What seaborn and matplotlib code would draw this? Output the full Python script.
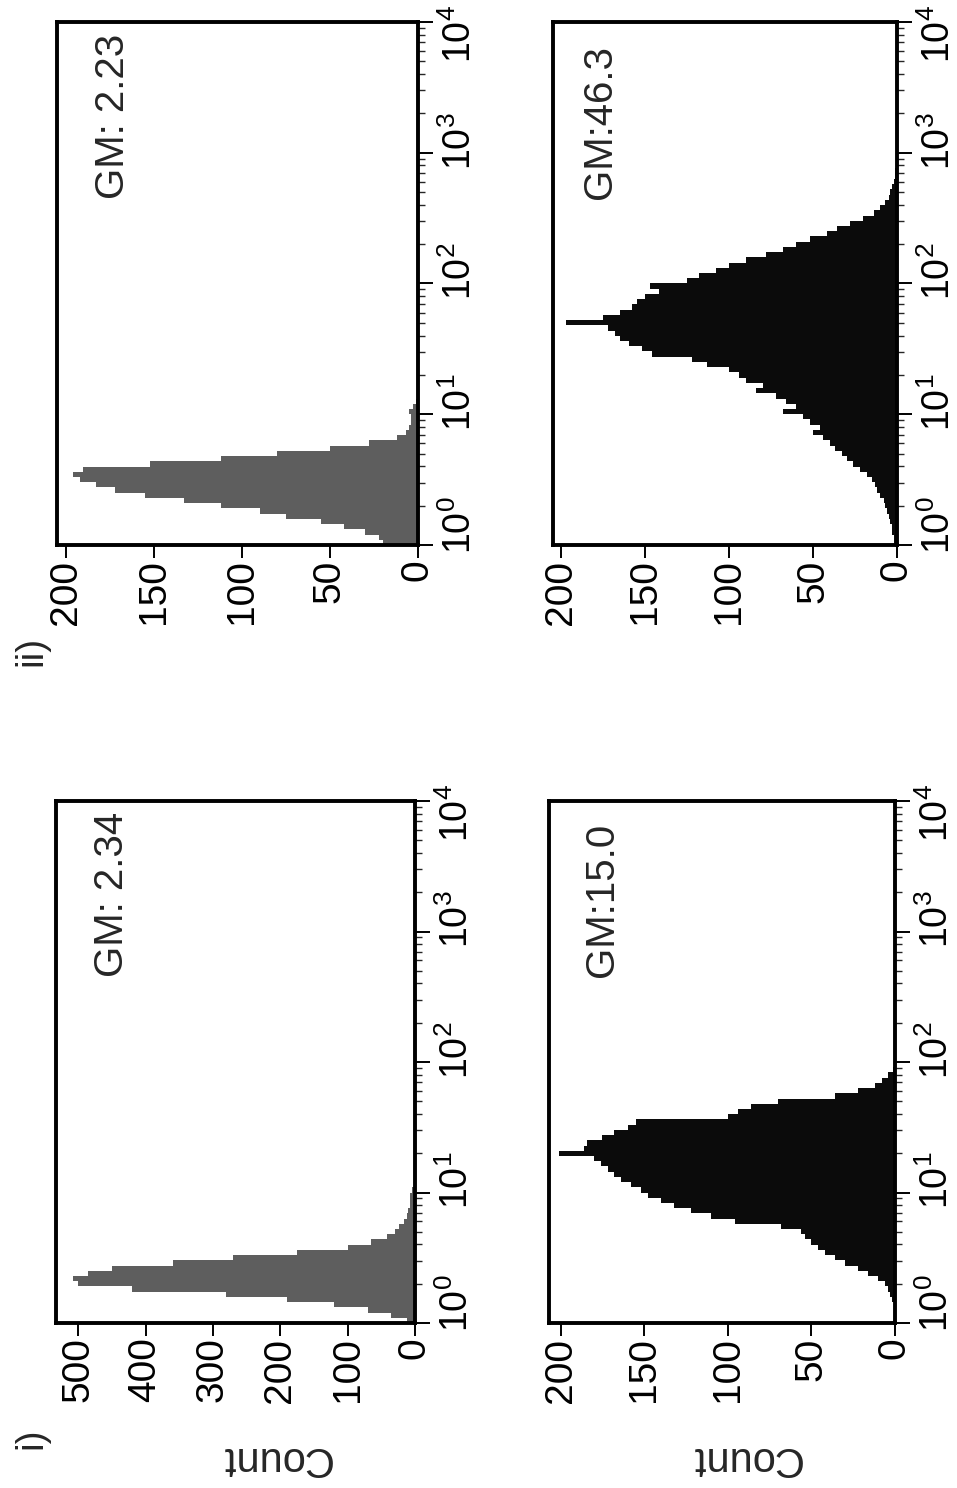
import numpy as np
import pandas as pd
import matplotlib
matplotlib.use("Agg")
import matplotlib.pyplot as plt
import seaborn as sns
from matplotlib.ticker import FixedLocator, LogLocator, NullFormatter
from matplotlib.transforms import ScaledTranslation

# width of one channel on the log fluorescence axis (decades); channel 0 starts at 10^0
BIN_W = 0.04

# counts per channel
ii_ctrl_counts = [20, 22, 30, 42, 55, 75, 90, 112, 133, 155, 172, 183, 192, 196,
                  190, 152, 112, 80, 50, 28, 12, 7, 5, 4, 4, 5, 3, 1]
ii_stain_counts = [2, 2, 3, 3, 4, 5, 6, 7, 8, 10, 12, 13, 15, 18, 22, 26, 30, 33,
                   37, 40, 44, 50, 46, 52, 56, 68, 60, 66, 72, 84, 80, 90, 94, 100,
                   113, 122, 146, 152, 160, 165, 168, 172, 197, 175, 165, 158, 155,
                   150, 142, 147, 125, 118, 108, 100, 90, 78, 68, 60, 52, 42, 36,
                   28, 20, 14, 10, 7, 5, 4, 3, 2, 1, 1]
i_ctrl_counts = [12, 35, 70, 120, 190, 280, 420, 500, 508, 485, 450, 360, 270, 175,
                 100, 65, 42, 30, 24, 17, 12, 10, 8, 7, 7, 5, 2]
i_stain_counts = [0, 0, 0, 0, 2, 3, 4, 6, 10, 16, 22, 30, 36, 42, 46, 50, 54, 56,
                  68, 96, 110, 122, 132, 140, 148, 152, 158, 164, 168, 172, 176,
                  180, 201, 186, 184, 175, 168, 160, 155, 100, 94, 86, 70, 36, 22,
                  12, 8, 4, 1]

gm_ii_ctrl = "GM: 2.23"
gm_ii_stain = "GM:46.3"
gm_i_ctrl = "GM: 2.34"
gm_i_stain = "GM:15.0"

ticks_200 = [0, 50, 100, 150, 200]
ticks_500 = [0, 100, 200, 300, 400, 500]
decades = [1, 10, 100, 1000, 10000]
decade_labels = [r"$\mathregular{10^{%d}}$" % k for k in range(5)]
# how far each decade label sits above its tick (inches)
label_shift = [0.20, 0.12, 0.12, 0.12, -0.12]

GRAY = "#5e5e5e"
BLACK = "#0b0b0b"

sns.set_style("ticks")
plt.rcParams["font.family"] = ["Liberation Sans", "DejaVu Sans"]
plt.rcParams["mathtext.fontset"] = "custom"
plt.rcParams["mathtext.rm"] = "Liberation Sans"
plt.rcParams["mathtext.it"] = "Liberation Sans:italic"
plt.rcParams["mathtext.bf"] = "Liberation Sans:bold"

W, H = 957, 1488
fig = plt.figure(figsize=(W / 100, H / 100), dpi=100)
fig.patch.set_facecolor("white")


def px_rect(x0, y0, x1, y1):
    return [x0 / W, 1 - y1 / H, (x1 - x0) / W, (y1 - y0) / H]


def hist_panel(rect, counts, color, xmax, count_ticks, gm, gm_x):
    ax = fig.add_axes(rect)
    edges = (np.arange(len(counts) + 1) * BIN_W).tolist()
    df = pd.DataFrame({"fl": [10 ** (e + BIN_W / 2) for e in edges[:-1]],
                       "count": counts})
    sns.histplot(data=df, y="fl", weights="count", bins=edges,
                 log_scale=(False, True), element="step", fill=True,
                 color=color, alpha=1, linewidth=0, ax=ax)
    ax.set_xlim(xmax, 0)
    ax.set_ylim(1, 10000)
    ax.set_xlabel("")
    ax.set_ylabel("")

    # count axis along the bottom, fluorescence axis on the right
    ax.xaxis.set_major_locator(FixedLocator(count_ticks))
    ax.yaxis.tick_right()
    ax.set_yticks(decades)
    ax.set_yticklabels(decade_labels)
    ax.yaxis.set_minor_locator(LogLocator(base=10, subs=np.arange(2, 10), numticks=20))
    ax.yaxis.set_minor_formatter(NullFormatter())

    ax.tick_params(axis="x", which="major", direction="out", length=9, width=1.4,
                   pad=1.5, labelsize=28, labelrotation=90, colors="black")
    ax.tick_params(axis="y", which="major", direction="out", length=11, width=1.4,
                   pad=6, labelsize=27, labelrotation=90, colors="black")
    ax.tick_params(axis="y", which="minor", direction="out", length=5, width=1.0)

    for s in ax.spines.values():
        s.set_visible(True)
        s.set_linewidth(2.8)
        s.set_color("black")

    for lab, dy in zip(ax.get_yticklabels(), label_shift):
        lab.set_va("center")
        lab.set_transform(lab.get_transform()
                          + ScaledTranslation(0, dy, fig.dpi_scale_trans))

    ax.text(gm_x, 0.662, gm, transform=ax.transAxes, rotation=90,
            ha="center", va="bottom", fontsize=29)
    return ax


hist_panel(px_rect(57, 22, 418, 545), ii_ctrl_counts, GRAY, 205, ticks_200,
           gm_ii_ctrl, 0.155)
hist_panel(px_rect(553, 22, 897, 545), ii_stain_counts, BLACK, 205, ticks_200,
           gm_ii_stain, 0.137)
hist_panel(px_rect(56, 801, 415, 1323), i_ctrl_counts, GRAY, 533, ticks_500,
           gm_i_ctrl, 0.155)
hist_panel(px_rect(549, 801, 895, 1323), i_stain_counts, BLACK, 207, ticks_200,
           gm_i_stain, 0.153)

fig.text(275 / W, 1 - 1458 / H, "Count", rotation=180, ha="center", va="center",
         fontsize=30)
fig.text(745 / W, 1 - 1458 / H, "Count", rotation=180, ha="center", va="center",
         fontsize=30)
fig.text(31 / W, 1 - 1438 / H, "i)", rotation=90, ha="center", va="center",
         fontsize=28)
fig.text(31 / W, 1 - 651 / H, "ii)", rotation=90, ha="center", va="center",
         fontsize=28)

fig.savefig("out.png", dpi=100, facecolor="white")
